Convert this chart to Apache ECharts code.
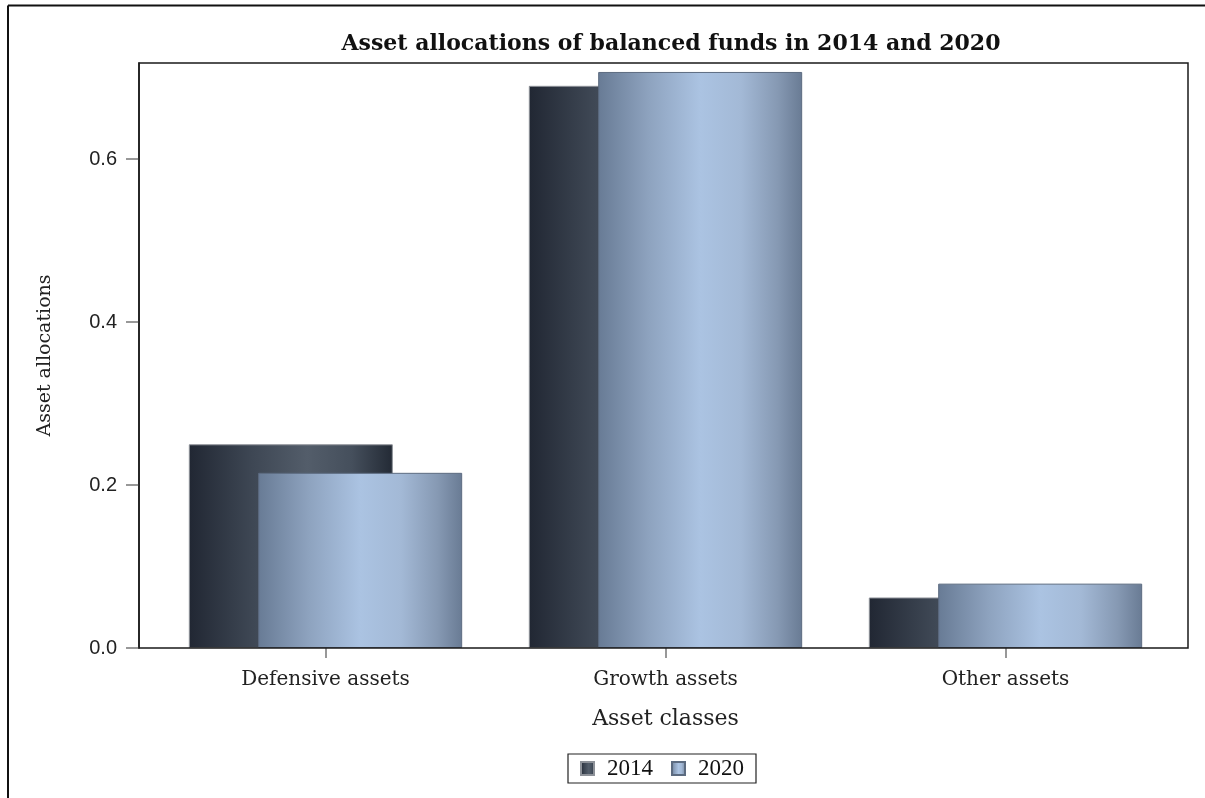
<!DOCTYPE html>
<html>
<head>
<meta charset="utf-8">
<title>Asset allocations of balanced funds in 2014 and 2020</title>
<script src="https://cdn.jsdelivr.net/npm/echarts@6/dist/echarts.min.js"></script>
<style>
  html, body { margin: 0; padding: 0; background: #ffffff; }
  #chart { width: 1205px; height: 798px; }
</style>
</head>
<body>
<div id="chart"></div>
<script>
// Asset classes on the category axis
const categories = ['Defensive assets', 'Growth assets', 'Other assets'];
// Fund years shown as two overlapping bar series
const years = ['2014', '2020'];
// Share of balanced-fund assets per class
const alloc2014 = [0.250, 0.690, 0.062];
const alloc2020 = [0.215, 0.707, 0.079];
// Value-axis ticks
const yTickStep = 0.2;
const yMax = 0.718;

const serif = '"DejaVu Serif", "Liberation Serif", serif';
const timesLike = '"Liberation Serif", "Times New Roman", serif';
const sans = '"Liberation Sans", Arial, sans-serif';

// Horizontal sheen gradients for the bars
function sheen(stops) {
  return {
    type: 'linear', x: 0, y: 0, x2: 1, y2: 0,
    colorStops: stops.map(s => ({ offset: s[0], color: s[1] }))
  };
}
const dark = sheen([[0, '#212733'], [0.3, '#3d4653'], [0.58, '#535d6a'], [0.8, '#454f5c'], [1, '#232a35']]);
const light = sheen([[0, '#687b95'], [0.25, '#8ea3bf'], [0.5, '#abc3e2'], [0.7, '#a3b9d6'], [0.88, '#8699b3'], [1, '#697b94']]);

const chart = echarts.init(document.getElementById('chart'), null, { renderer: 'canvas' });

chart.setOption({
  backgroundColor: '#ffffff',
  animation: false,
  title: {
    text: 'Asset allocations of balanced funds in 2014 and 2020',
    left: 666,
    textAlign: 'center',
    top: 28,
    textStyle: { fontFamily: serif, fontWeight: 'bold', fontSize: 22, color: '#111' }
  },
  legend: {
    data: years,
    bottom: 15,
    left: 568,
    icon: 'rect',
    itemWidth: 13,
    itemHeight: 13,
    itemGap: 18,
    padding: [3, 12, 3, 12],
    borderColor: '#222',
    borderWidth: 1.2,
    borderRadius: 0,
    textStyle: { fontFamily: timesLike, fontSize: 23, color: '#111', padding: [0, 0, 0, 8] }
  },
  graphic: [
    // page frame (left and top edges)
    { type: 'line', shape: { x1: 8, y1: 5.5, x2: 1205, y2: 5.5 }, style: { stroke: '#111', lineWidth: 2 } },
    { type: 'line', shape: { x1: 8, y1: 5.5, x2: 8, y2: 798 }, style: { stroke: '#111', lineWidth: 2 } }
  ],
  grid: [
    { left: 155.5, right: 29.5, top: 63, bottom: 150 },
    { left: 139, right: 17, top: 63, bottom: 150, show: true, borderColor: '#1a1a1a', borderWidth: 1.5, backgroundColor: 'transparent', z: 5 }
  ],
  xAxis: [
    {
      type: 'category',
      gridIndex: 0,
      data: categories,
      name: 'Asset classes',
      nameLocation: 'middle',
      nameGap: 60,
      nameTextStyle: { fontFamily: serif, fontSize: 22, color: '#222' },
      axisLine: { show: false },
      axisTick: { show: true, alignWithLabel: true, length: 10, lineStyle: { color: '#777', width: 1.5 } },
      axisLabel: { margin: 22, fontFamily: serif, fontSize: 20, color: '#222' }
    },
    { type: 'value', gridIndex: 1, show: false }
  ],
  yAxis: [
    {
      type: 'value',
      gridIndex: 0,
      min: 0,
      max: yMax,
      interval: yTickStep,
      offset: 16.5,
      name: 'Asset allocations',
      nameLocation: 'middle',
      nameGap: 84,
      nameTextStyle: { fontFamily: serif, fontSize: 19, color: '#222' },
      axisLine: { show: true, lineStyle: { color: '#1a1a1a', width: 1.5 } },
      axisTick: { show: true, length: 13, lineStyle: { color: '#777', width: 1.5 } },
      axisLabel: {
        margin: 22, fontFamily: sans, fontSize: 20, color: '#222',
        showMaxLabel: false,
        formatter: v => v.toFixed(1)
      },
      splitLine: { show: false }
    },
    { type: 'value', gridIndex: 1, show: false }
  ],
  series: [
    {
      name: years[0],
      type: 'bar',
      xAxisIndex: 0, yAxisIndex: 0,
      data: alloc2014,
      barWidth: 204,
      barGap: '-66%',
      itemStyle: { color: dark, borderColor: '#8d9198', borderWidth: 1 }
    },
    {
      name: years[1],
      type: 'bar',
      xAxisIndex: 0, yAxisIndex: 0,
      data: alloc2020,
      barWidth: 204,
      barGap: '-66%',
      itemStyle: { color: light, borderColor: '#5c6b80', borderWidth: 1 }
    }
  ]
});
</script>
</body>
</html>
